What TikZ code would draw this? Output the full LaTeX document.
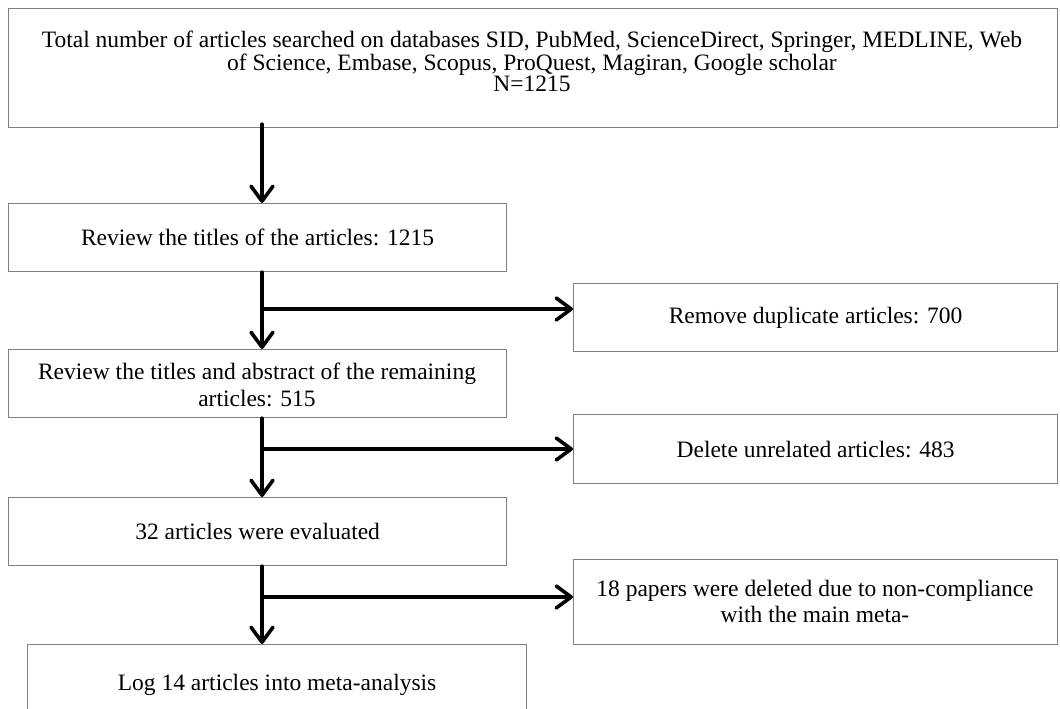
\documentclass[tikz,border=0pt]{standalone}
\usepackage{fontspec}
\setmainfont{Liberation Serif}
\usetikzlibrary{arrows.meta}
\begin{document}
\begin{tikzpicture}[x=1pt,y=-1pt,
  box/.style={draw=black!50, line width=1.2pt, inner sep=0pt, anchor=north west,
    font=\fontsize{23.5}{22}\selectfont, align=center},
  txt/.style={inner sep=0pt, anchor=north, align=center},
  arr/.style={line width=3.6pt, line cap=round,
    -{Straight Barb[length=15pt,width=22pt,round]}}]
\useasboundingbox (0,0) rectangle (1060,709);
\node[box, minimum width=1049pt, minimum height=119pt] (b1) at (8,8) {};
\node[txt, font=\fontsize{23.5}{21.5}\selectfont] (t1) at (532,31)
  {Total number of articles searched on databases SID, PubMed, ScienceDirect, Springer, MEDLINE, Web\\
   of Science, Embase, Scopus, ProQuest, Magiran, Google scholar\\ N=1215};
\node[box, minimum width=498pt, minimum height=68pt] (b2) at (8,203)
  {Review the titles of the articles: 1215};
\node[box, minimum width=484pt, minimum height=68pt] (b3) at (573,283)
  {Remove duplicate articles: 700};
\node[box, minimum width=498pt, minimum height=68pt] (b4) at (8,349) {};
\begin{scope}
  \clip (8,349) rectangle (506,417);
  \node[txt, font=\fontsize{23.5}{27}\selectfont] (t4) at (257,363)
    {Review the titles and abstract of the remaining\\ articles: 515};
\end{scope}
\node[box, minimum width=484pt, minimum height=69pt] (b5) at (573,414)
  {Delete unrelated articles: 483};
\node[box, minimum width=498pt, minimum height=68pt] (b6) at (8,497)
  {32 articles were evaluated};
\node[box, minimum width=484pt, minimum height=85pt] (b7) at (573,559) {};
\node[txt, font=\fontsize{23.5}{26}\selectfont] (t7) at (815,580)
  {18 papers were deleted due to non-compliance\\ with the main meta-};
\node[box, minimum width=499pt, minimum height=80pt] (b8) at (27,644)
  {Log 14 articles into meta-analysis};
\coordinate (ax) at (262,0);
\coordinate (j1) at (262,309);
\coordinate (j2) at (262,449);
\coordinate (j3) at (262,597);
\draw[arr] ([yshift=4pt]b1.south -| ax) -- (b2.north -| ax);
\draw[arr] (b2.south -| ax) -- (b4.north -| ax);
\draw[arr] (j1) -- (j1 -| b3.west);
\draw[arr] (b4.south -| ax) -- (b6.north -| ax);
\draw[arr] (j2) -- (j2 -| b5.west);
\draw[arr] (b6.south -| ax) -- (b8.north -| ax);
\draw[arr] (j3) -- (j3 -| b7.west);
\end{tikzpicture}
\end{document}
